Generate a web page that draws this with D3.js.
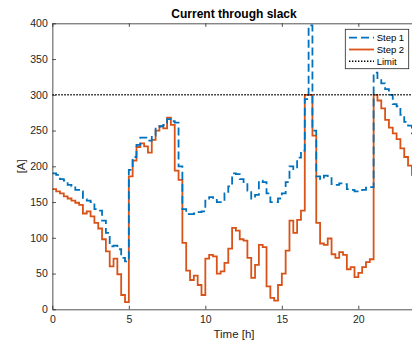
<!DOCTYPE html>
<html><head><meta charset="utf-8">
<script src="https://cdn.jsdelivr.net/npm/d3@7"></script>
<style>body{margin:0;background:#fff}svg{display:block}text{font-family:"Liberation Sans",Arial,Helvetica,sans-serif}</style>
</head><body>
<svg id="c" width="412" height="345"></svg>
<script>
// ---- data ----
const seriesNames = ["Step 1", "Step 2", "Limit"];
const stepHours = 0.25; // sampling interval (15 min), 96 samples
const step1 = [190,188,182,180,174,172,167,165,154,152,150,140,138,124,107,88,89,84,72,67,
  195,213,230,240,240,236,243,255,256,258,266,263,261,200,140,133,133,134,136,137,
  152,157,156,150,150,162,172,190,189,182,178,166,155,160,180,178,162,150,150,155,
  162,178,200,196,212,222,294,397,250,186,182,187,185,175,174,176,175,168,167,165,
  165,167,170,171,331,322,316,308,300,287,284,272,262,257,246,235];
const step2 = [168,165,162,158,155,152,149,146,134,137,130,121,113,98,81,60,71,49,20,10,
  186,208,227,232,228,219,237,250,256,253,268,258,194,181,93,54,41,47,34,20,
  71,76,74,50,53,65,85,114,110,98,96,72,44,62,90,87,32,16,12,34,
  50,82,124,107,125,138,300,300,243,121,92,90,99,77,72,80,76,56,59,45,
  51,59,66,70,300,292,281,265,254,246,238,225,213,201,188,180];
const limitValue = 300;
const xTicks = [0,5,10,15,20];
const yTicks = [0,50,100,150,200,250,300,350,400];
const xDomain = [0, 23.75];
const yDomain = [0, 400];
const titleText = "Current through slack";
const xLabel = "Time [h]";
const yLabel = "[A]";

// ---- layout ----
const svg = d3.select("#c");
const L = 52.33, R = 415.7, T = 23.3, B = 309.3;
const x = d3.scaleLinear().domain(xDomain).range([L, R]);
const y = d3.scaleLinear().domain(yDomain).range([B, T]);
const axisColor = "#262626";
const blue = "#0072BD", orange = "#D95319";

const times = step1.map((_, i) => i * stepHours);

svg.append("defs").append("clipPath").attr("id","clip")
  .append("rect").attr("x",L).attr("y",T).attr("width",R-L).attr("height",B-T);

const plot = svg.append("g").attr("clip-path","url(#clip)");
const line = d3.line().x(d => x(d[0])).y(d => y(d[1])).curve(d3.curveStepAfter);

plot.append("path").datum(times.map((t,i)=>[t, step2[i]]))
  .attr("d", line).attr("fill","none").attr("stroke",orange).attr("stroke-width",1.8);
plot.append("path").datum(times.map((t,i)=>[t, step1[i]]))
  .attr("d", line).attr("fill","none").attr("stroke",blue).attr("stroke-width",1.8)
  .attr("stroke-dasharray","8,4");
plot.append("path").datum([[xDomain[0], limitValue],[xDomain[1], limitValue]])
  .attr("d", d3.line().x(d=>x(d[0])).y(d=>y(d[1])))
  .attr("fill","none").attr("stroke","#000").attr("stroke-width",1.4)
  .attr("stroke-dasharray","1.4,1.6");

// ---- axes ----
const tk = 3.6;
function styleAxis(g){
  g.select(".domain").attr("stroke",axisColor).attr("stroke-width",0.8);
  g.selectAll(".tick line").attr("stroke",axisColor).attr("stroke-width",0.8);
  g.selectAll(".tick text").attr("fill",axisColor).attr("font-size","10.5px")
    .attr("font-family",'"Liberation Sans",Arial,sans-serif');
}
svg.append("g").attr("transform",`translate(0,${B})`)
  .call(d3.axisBottom(x).tickValues(xTicks).tickSizeInner(-tk).tickSizeOuter(0).tickPadding(6.5).tickFormat(d3.format("d")))
  .call(styleAxis);
svg.append("g").attr("transform",`translate(0,${T})`)
  .call(d3.axisTop(x).tickValues(xTicks).tickSizeInner(-tk).tickSizeOuter(0).tickFormat(""))
  .call(styleAxis);
svg.append("g").attr("transform",`translate(${L},0)`)
  .call(d3.axisLeft(y).tickValues(yTicks).tickSizeInner(-tk).tickSizeOuter(0).tickPadding(4.6).tickFormat(d3.format("d")))
  .call(styleAxis);
svg.append("g").attr("transform",`translate(${R},0)`)
  .call(d3.axisRight(y).tickValues(yTicks).tickSizeInner(-tk).tickSizeOuter(0).tickFormat(""))
  .call(styleAxis);

// ---- labels ----
svg.append("text").attr("x",(L+R)/2).attr("y",17.8).attr("text-anchor","middle")
  .attr("font-size","12px").attr("font-weight","bold").attr("fill","#000").text(titleText);
svg.append("text").attr("x",(L+R)/2).attr("y",338).attr("text-anchor","middle")
  .attr("font-size","11.5px").attr("fill",axisColor).text(xLabel);
svg.append("text").attr("transform",`translate(24.5,${(T+B)/2}) rotate(-90)`)
  .attr("text-anchor","middle").attr("font-size","11.5px").attr("fill",axisColor).text(yLabel);

// ---- legend ----
const lg = svg.append("g");
lg.append("rect").attr("x",345.3).attr("y",29.3).attr("width",63.4).attr("height",39.4)
  .attr("fill","#fff").attr("stroke",axisColor).attr("stroke-width",0.8);
const legendItems = [
  {name: seriesNames[0], color: blue, dash: "8,4", w: 1.8},
  {name: seriesNames[1], color: orange, dash: null, w: 1.8},
  {name: seriesNames[2], color: "#000", dash: "1.4,1.6", w: 1.4}
];
const ly = d3.scalePoint().domain(legendItems.map(d=>d.name)).range([37.7, 61.3]);
legendItems.forEach(d => {
  lg.append("line").attr("x1",349).attr("x2",374).attr("y1",ly(d.name)).attr("y2",ly(d.name))
    .attr("stroke",d.color).attr("stroke-width",d.w).attr("stroke-dasharray",d.dash);
  lg.append("text").attr("x",376.7).attr("y",ly(d.name)).attr("dy","0.35em")
    .attr("font-size","9.5px").attr("fill","#000").text(d.name);
});
</script>
</body></html>
